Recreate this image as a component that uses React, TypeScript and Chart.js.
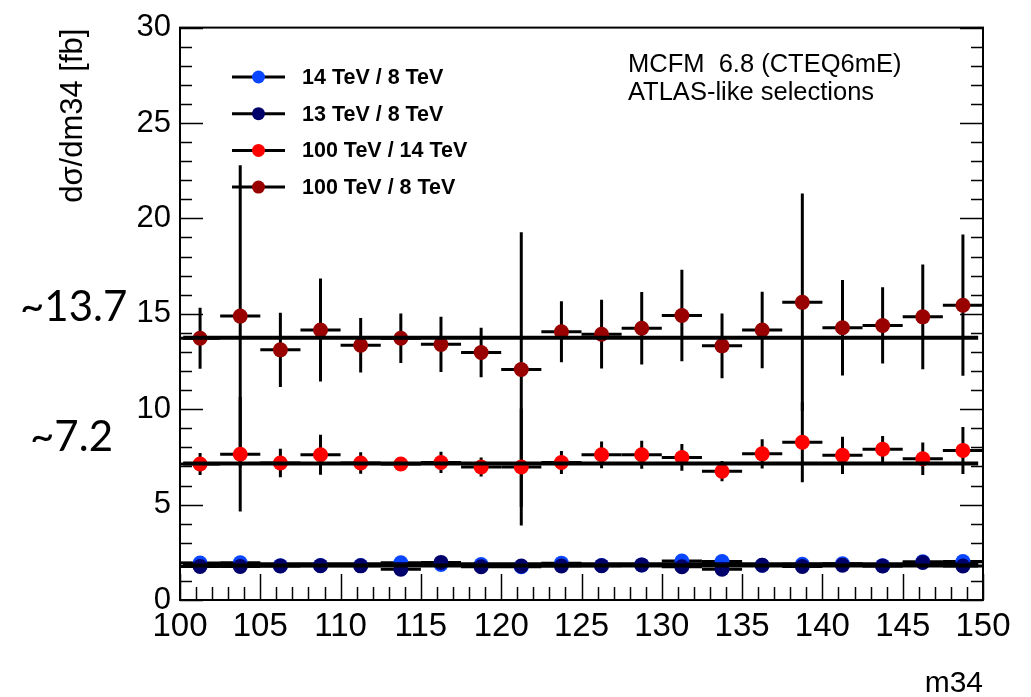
import React, { useEffect, useRef } from "react";
import { Chart, registerables } from "chart.js";

Chart.register(...registerables);

// ---------------- data ----------------
const binCenters = [
  101.25, 103.75, 106.25, 108.75, 111.25, 113.75, 116.25, 118.75, 121.25, 123.75,
  126.25, 128.75, 131.25, 133.75, 136.25, 138.75, 141.25, 143.75, 146.25, 148.75,
];
const binHalfWidth = 1.25;

const ratio14over8 = [
  1.94, 1.95, 1.80, 1.81, 1.81, 1.95, 1.86, 1.86, 1.74, 1.93,
  1.81, 1.84, 2.04, 2.02, 1.82, 1.87, 1.90, 1.80, 2.00, 2.02,
];
const err14over8 = [
  0.05, 0.05, 0.05, 0.05, 0.05, 0.05, 0.05, 0.05, 0.05, 0.05,
  0.05, 0.05, 0.05, 0.05, 0.05, 0.05, 0.05, 0.05, 0.05, 0.05,
];

const ratio13over8 = [
  1.76, 1.76, 1.78, 1.80, 1.79, 1.61, 1.97, 1.74, 1.78, 1.78,
  1.80, 1.84, 1.74, 1.61, 1.82, 1.76, 1.82, 1.78, 1.97, 1.78,
];
const err13over8 = [
  0.05, 0.05, 0.05, 0.05, 0.05, 0.05, 0.05, 0.05, 0.05, 0.05,
  0.05, 0.05, 0.05, 0.05, 0.05, 0.05, 0.05, 0.05, 0.05, 0.05,
];

const ratio100over14 = [
  7.13, 7.64, 7.18, 7.61, 7.18, 7.13, 7.21, 6.97, 6.97, 7.21,
  7.61, 7.61, 7.47, 6.75, 7.66, 8.27, 7.58, 7.90, 7.40, 7.84,
];
const err100over14 = [
  0.58, 3.0, 0.75, 1.05, 0.56, 0.15, 0.56, 0.5, 3.07, 0.6,
  0.7, 0.73, 0.7, 0.53, 0.77, 2.1, 0.97, 0.7, 0.85, 1.23,
];

const ratio100over8 = [
  13.72, 14.88, 13.11, 14.15, 13.35, 13.72, 13.40, 12.97, 12.08, 14.06,
  13.93, 14.24, 14.91, 13.32, 14.15, 15.60, 14.27, 14.39, 14.84, 15.45,
];
const err100over8 = [
  1.6, 7.9, 1.95, 2.7, 1.43, 1.3, 1.45, 1.3, 7.2, 1.6,
  1.8, 1.9, 2.4, 1.7, 2.0, 5.7, 2.5, 2.0, 2.75, 3.7,
];

const fitRange = [100.2, 149.7];
const fit14over8 = 1.87;
const fit13over8 = 1.81;
const fit100over14 = 7.16;
const fit100over8 = 13.75;

const xTickRange = [100, 150];
const yTickRange = [0, 30];
const majorStep = 5;
const minorStep = 1;

const seriesLabels = ["14 TeV / 8 TeV", "13 TeV / 8 TeV", "100 TeV / 14 TeV", "100 TeV / 8 TeV"];
const seriesColors = ["#0a46ff", "#00006b", "#ff0000", "#990000"];

const yTitle = "dσ/dm34 [fb]";
const xTitle = "m34";
const infoLines = ["MCFM  6.8 (CTEQ6mE)", "ATLAS-like selections"];
const levelNotes = ["~13.7", "~7.2"];

const FONT = "'Liberation Sans', Arial, Helvetica, sans-serif";

function points(vals: number[]) {
  return binCenters.map((x, i) => ({ x, y: vals[i] }));
}
function fitLine(level: number) {
  return [
    { x: fitRange[0], y: level },
    { x: fitRange[1], y: level },
  ];
}

const errorBarPlugin = {
  id: "errorBars",
  beforeDatasetDraw(chart: any, args: any) {
    const ds = chart.data.datasets[args.index];
    if (!ds.errY) return;
    const xs = chart.scales.x;
    const ys = chart.scales.y;
    const ctx = chart.ctx;
    ctx.save();
    ctx.beginPath();
    ctx.rect(chart.chartArea.left, chart.chartArea.top, chart.chartArea.width, chart.chartArea.height);
    ctx.clip();
    ctx.strokeStyle = "#000";
    ctx.lineWidth = 3;
    ds.data.forEach((p: any, i: number) => {
      const px = xs.getPixelForValue(p.x);
      const py = ys.getPixelForValue(p.y);
      const x0 = xs.getPixelForValue(p.x - ds.halfWidth);
      const x1 = xs.getPixelForValue(p.x + ds.halfWidth);
      const yt = ys.getPixelForValue(p.y + ds.errY[i]);
      const yb = ys.getPixelForValue(p.y - ds.errY[i]);
      ctx.beginPath();
      ctx.moveTo(x0, py);
      ctx.lineTo(x1, py);
      ctx.moveTo(px, yt);
      ctx.lineTo(px, yb);
      ctx.stroke();
    });
    ctx.restore();
  },
};

const framePlugin = {
  id: "rootFrame",
  afterDraw(chart: any) {
    const ctx = chart.ctx;
    const { left, right, top, bottom } = chart.chartArea;
    const xs = chart.scales.x;
    const ys = chart.scales.y;
    ctx.save();
    ctx.strokeStyle = "#000";
    ctx.lineWidth = 2;
    ctx.strokeRect(left, top, right - left, bottom - top);

    ctx.lineWidth = 1.5;
    // x ticks (bottom only)
    for (let v = xTickRange[0]; v <= xTickRange[1] + 1e-9; v += minorStep) {
      const px = Math.round(xs.getPixelForValue(v)) + 0.5;
      const major = Math.abs(v / majorStep - Math.round(v / majorStep)) < 1e-6;
      const len = major ? 26 : 13;
      ctx.beginPath();
      ctx.moveTo(px, bottom);
      ctx.lineTo(px, bottom - len);
      ctx.stroke();
    }
    // y ticks (left and right)
    for (let v = yTickRange[0]; v <= yTickRange[1] + 1e-9; v += minorStep) {
      const py = Math.round(ys.getPixelForValue(v)) + 0.5;
      const major = Math.abs(v / majorStep - Math.round(v / majorStep)) < 1e-6;
      const len = major ? 23 : 12;
      ctx.beginPath();
      ctx.moveTo(left, py);
      ctx.lineTo(left + len, py);
      ctx.moveTo(right, py);
      ctx.lineTo(right - len, py);
      ctx.stroke();
    }

    ctx.fillStyle = "#000";
    // y title (rotated, aligned at top)
    ctx.save();
    ctx.translate(82, top + 1);
    ctx.rotate(-Math.PI / 2);
    ctx.font = `31px ${FONT}`;
    ctx.textAlign = "right";
    ctx.textBaseline = "alphabetic";
    ctx.fillText(yTitle, 0, 0);
    ctx.restore();

    // x title
    ctx.font = `30px ${FONT}`;
    ctx.textAlign = "right";
    ctx.textBaseline = "alphabetic";
    ctx.fillText(xTitle, right, 692);

    // info text
    ctx.font = `25.5px ${FONT}`;
    ctx.textAlign = "left";
    ctx.fillText(infoLines[0], 628, 72);
    ctx.fillText(infoLines[1], 628, 100);

    // level notes
    ctx.font = `42px Lato, 'Open Sans', sans-serif`;
    ctx.textAlign = "left";
    ctx.textBaseline = "middle";
    ctx.fillText(levelNotes[0], 20, ys.getPixelForValue(fit100over8) - 30);
    ctx.fillText(levelNotes[1], 30, ys.getPixelForValue(fit100over14) - 26);

    // legend
    const legendX = 232;
    const legendY0 = 77;
    const legendDy = 36.7;
    ctx.font = `bold 21.5px ${FONT}`;
    for (let i = 0; i < seriesLabels.length; i++) {
      const y = legendY0 + i * legendDy;
      ctx.strokeStyle = "#000";
      ctx.lineWidth = 3;
      ctx.beginPath();
      ctx.moveTo(legendX, y);
      ctx.lineTo(legendX + 53, y);
      ctx.stroke();
      ctx.fillStyle = seriesColors[i];
      ctx.beginPath();
      ctx.arc(legendX + 26.5, y, 6.5, 0, Math.PI * 2);
      ctx.fill();
      ctx.fillStyle = "#000";
      ctx.textAlign = "left";
      ctx.textBaseline = "middle";
      ctx.fillText(seriesLabels[i], legendX + 70, y + 1);
    }
    ctx.restore();
  },
};

export default function App() {
  const ref = useRef<HTMLCanvasElement | null>(null);

  useEffect(() => {
    if (!ref.current) return;
    const markerDs = (idx: number, vals: number[], errs: number[], order: number) => ({
      type: "scatter" as const,
      label: seriesLabels[idx],
      data: points(vals),
      errY: errs,
      halfWidth: binHalfWidth,
      backgroundColor: seriesColors[idx],
      borderColor: seriesColors[idx],
      borderWidth: 0,
      pointRadius: 7.5,
      pointHoverRadius: 7.5,
      showLine: false,
      order,
    });
    const fitDs = (level: number, order: number) => ({
      type: "line" as const,
      label: "fit",
      data: fitLine(level),
      borderColor: "#000",
      borderWidth: 4,
      pointRadius: 0,
      fill: false,
      order,
    });

    const chart = new Chart(ref.current, {
      type: "scatter",
      data: {
        datasets: [
          markerDs(3, ratio100over8, err100over8, 9),
          fitDs(fit100over8, 8),
          markerDs(2, ratio100over14, err100over14, 7),
          fitDs(fit100over14, 6),
          markerDs(0, ratio14over8, err14over8, 5),
          fitDs(fit14over8, 4),
          markerDs(1, ratio13over8, err13over8, 3),
          fitDs(fit13over8, 2),
        ] as any,
      },
      options: {
        animation: false,
        responsive: false,
        maintainAspectRatio: false,
        events: [],
        layout: { padding: { left: 0, top: 21, right: 48, bottom: 0 } },
        plugins: {
          legend: { display: false },
          tooltip: { enabled: false },
        },
        scales: {
          x: {
            type: "linear",
            min: xTickRange[0],
            max: xTickRange[1],
            grid: { display: false, drawTicks: false },
            border: { display: false },
            ticks: {
              stepSize: majorStep,
              autoSkip: false,
              maxRotation: 0,
              padding: 7,
              color: "#000",
              font: { family: FONT, size: 33 },
            },
            afterFit: (s: any) => {
              s.height = 97;
            },
          },
          y: {
            type: "linear",
            min: yTickRange[0],
            max: yTickRange[1],
            grid: { display: false, drawTicks: false },
            border: { display: false },
            ticks: {
              stepSize: majorStep,
              autoSkip: false,
              padding: 9,
              color: "#000",
              font: { family: FONT, size: 31 },
            },
            afterFit: (s: any) => {
              s.width = 180;
            },
          },
        },
      } as any,
      plugins: [errorBarPlugin, framePlugin],
    });
    return () => chart.destroy();
  }, []);

  return (
    <div style={{ position: "fixed", left: 0, top: 0, width: 1031, height: 697, background: "#fff" }}>
      <canvas ref={ref} width={1031} height={697} style={{ display: "block" }} />
    </div>
  );
}
